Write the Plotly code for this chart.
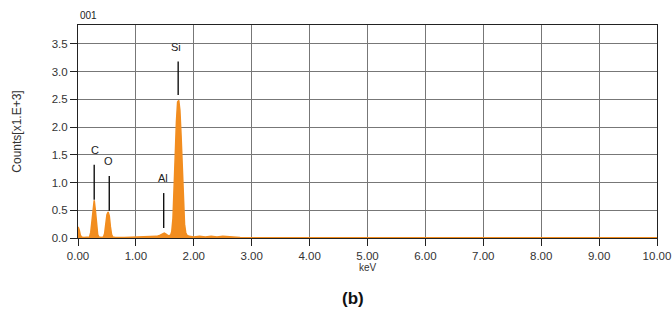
import plotly.graph_objects as go

energy_kev = [0.00, 0.02, 0.04, 0.06, 0.10, 0.16, 0.20, 0.22, 0.24, 0.26, 0.28, 0.30, 0.32, 0.34, 0.36,
              0.40, 0.44, 0.46, 0.48, 0.50, 0.52, 0.54, 0.56, 0.58, 0.60, 0.64, 0.80, 1.00, 1.20,
              1.36, 1.42, 1.46, 1.49, 1.52, 1.56, 1.60, 1.62, 1.64, 1.66, 1.68, 1.70, 1.72, 1.74,
              1.76, 1.78, 1.80, 1.82, 1.84, 1.86, 1.88, 1.92, 2.00, 2.10, 2.20, 2.30, 2.40, 2.50,
              2.60, 2.70, 2.80, 3.00, 10.00]
counts_k = [0.20, 0.15, 0.05, 0.02, 0.01, 0.01, 0.02, 0.10, 0.30, 0.55, 0.68, 0.50, 0.22, 0.06, 0.02,
            0.01, 0.02, 0.08, 0.25, 0.42, 0.47, 0.40, 0.20, 0.06, 0.02, 0.01, 0.01, 0.02, 0.02,
            0.03, 0.05, 0.08, 0.09, 0.07, 0.04, 0.05, 0.12, 0.35, 0.80, 1.50, 2.10, 2.45, 2.48,
            2.30, 1.85, 1.20, 0.60, 0.25, 0.10, 0.05, 0.03, 0.02, 0.03, 0.02, 0.03, 0.02, 0.03,
            0.02, 0.02, 0.01, 0.005, 0.005]

peak_labels = ["C", "O", "Al", "Si"]
peak_line_x = [0.28, 0.54, 1.48, 1.73]
peak_line_top = [1.32, 1.12, 0.81, 3.18]
peak_line_bottom = [0.69, 0.49, 0.18, 2.58]
peak_text_x = [0.29, 0.53, 1.47, 1.69]
peak_text_y = [1.59, 1.39, 1.08, 3.45]

x_ticks = [0, 1, 2, 3, 4, 5, 6, 7, 8, 9, 10]
y_ticks = [0.0, 0.5, 1.0, 1.5, 2.0, 2.5, 3.0, 3.5]

orange = "#F28D1F"
font = "Liberation Sans, Arial, sans-serif"

W, H = 672, 325
ML, MR, MT, MB = 78, 15, 25, 87
PW, PH = W - ML - MR, H - MT - MB

fig = go.Figure()
fig.add_trace(go.Scatter(x=energy_kev, y=counts_k, mode="lines", fill="tozeroy",
                         line=dict(color=orange, width=1.5), fillcolor=orange, showlegend=False))

for lx, lt, lb in zip(peak_line_x, peak_line_top, peak_line_bottom):
    fig.add_shape(type="line", x0=lx, x1=lx, y0=lb, y1=lt, xref="x", yref="y",
                  line=dict(color="#111111", width=1.4))
for t, tx, ty in zip(peak_labels, peak_text_x, peak_text_y):
    fig.add_annotation(x=tx, y=ty, text=t, showarrow=False, xref="x", yref="y",
                       font=dict(family=font, size=11, color="#222222"))

fig.add_annotation(x=0, y=1, xref="paper", yref="paper", xanchor="left", yanchor="bottom",
                   yshift=2, text="001", showarrow=False, font=dict(family=font, size=10, color="#222222"))
fig.add_annotation(x=(353 - ML) / PW, y=(H - MB - 298) / PH, xref="paper", yref="paper",
                   xanchor="center", yanchor="middle", text="<b>(b)</b>", showarrow=False,
                   font=dict(family=font, size=17, color="#111111"))

fig.update_layout(
    width=W, height=H,
    margin=dict(l=ML, r=MR, t=MT, b=MB),
    paper_bgcolor="white", plot_bgcolor="white",
    font=dict(family=font, size=11, color="#333333"),
    xaxis=dict(range=[0, 10], tickvals=x_ticks, tickformat=".2f", showgrid=True, gridcolor="#777777",
               gridwidth=1, showline=True, linecolor="#222222", linewidth=1, mirror=True,
               ticks="outside", ticklen=7, tickcolor="#222222", zeroline=False, automargin=False,
               title=dict(text="keV", font=dict(size=10), standoff=2),
               tickfont=dict(size=11.5)),
    yaxis=dict(range=[0, 3.84], tickvals=y_ticks, tickformat=".1f", showgrid=True, gridcolor="#777777",
               gridwidth=1, showline=True, linecolor="#222222", linewidth=1, mirror=True,
               ticks="outside", ticklen=7, tickcolor="#222222", zeroline=False, automargin=False,
               title=dict(text="Counts[x1.E+3]", font=dict(size=12), standoff=27),
               tickfont=dict(size=11.5)),
)

fig.write_html("out.html", config={"displayModeBar": False},
               post_script="document.body.style.margin='0';document.body.style.overflow='hidden';")
